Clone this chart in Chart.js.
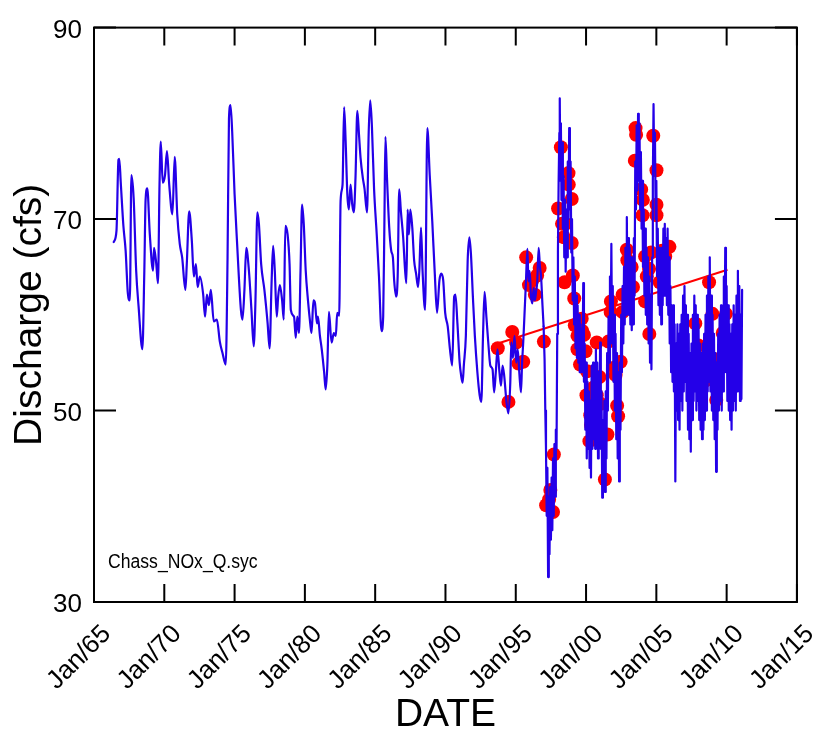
<!DOCTYPE html>
<html><head><meta charset="utf-8">
<script src="https://cdn.jsdelivr.net/npm/chart.js@4.4.1/dist/chart.umd.min.js"></script>
<style>html,body{margin:0;padding:0;background:#fff;}canvas{display:block;}</style>
</head><body>
<canvas id="c" width="836" height="731"></canvas>
<script>
// ---- Data ----
const flowDates = [
1966.40,1966.60,1966.74,1966.80,1966.90,1967.09,1967.25,1967.41,1967.55,1967.66,1967.82,1968.00,1968.17,1968.44,1968.58,1968.67,1968.79,1968.97,
1969.20,1969.27,1969.43,1969.55,1969.66,1969.75,1969.89,1970.05,1970.19,1970.35,1970.58,1970.74,1970.92,1971.10,1971.27,1971.50,1971.60,1971.77,1971.96,
1972.10,1972.25,1972.37,1972.53,1972.76,1972.90,1973.03,1973.17,1973.31,1973.52,1973.74,1973.95,1974.14,1974.37,1974.50,1974.60,1974.71,1974.83,
1975.00,1975.17,1975.45,1975.56,1975.70,1975.83,1976.02,1976.20,1976.36,1976.48,1976.62,1976.73,1976.89,1977.12,1977.35,1977.49,1977.63,1977.74,1977.86,
1978.00,1978.10,1978.22,1978.38,1978.50,1978.61,1978.77,1978.91,1979.00,1979.23,1979.35,1979.46,1979.58,1979.69,1979.80,1979.92,1980.06,1980.22,1980.38,
1980.47,1980.61,1980.72,1980.86,1980.93,1981.07,1981.20,1981.37,1981.48,1981.60,1981.71,1981.90,1982.06,1982.20,1982.30,1982.44,1982.54,1982.68,1982.79,
1982.90,1983.02,1983.13,1983.25,1983.37,1983.48,1983.60,1983.73,1983.85,1983.96,1984.12,1984.24,1984.42,1984.54,1984.65,1984.77,1984.92,1985.11,1985.27,
1985.45,1985.57,1985.66,1985.73,1985.84,1986.00,1986.14,1986.26,1986.35,1986.49,1986.60,1986.71,1986.83,1986.99,1987.13,1987.22,1987.31,1987.40,1987.50,
1987.64,1987.77,1987.91,1988.05,1988.14,1988.26,1988.37,1988.55,1988.71,1988.88,1989.06,1989.24,1989.40,1989.57,1989.70,1989.84,1989.98,1990.16,1990.32,
1990.48,1990.62,1990.71,1990.85,1991.01,1991.12,1991.22,1991.31,1991.45,1991.58,1991.70,1991.81,1991.95,1992.09,1992.27,1992.43,1992.55,1992.67,1992.78,
1992.91,1993.08,1993.19,1993.35,1993.46,1993.58,1993.70,1993.84,1993.95,1994.06,1994.18,1994.34,1994.48,1994.61,
1994.68,1994.80,1994.91,1995.03,1995.14,1995.25,1995.37,1995.45,1995.53,1995.62,1995.72,1995.83,1995.90,1995.99,1996.08,1996.18,1996.27,1996.36,1996.45,
1996.52,1996.63,1996.72,1996.80,1996.90,1996.98,
1997.05,1997.10,1997.15,1997.20,1997.25,1997.30,1997.35,1997.40,1997.45,1997.50,1997.55,1997.60,1997.65,1997.70,1997.75,1997.80,1997.85,1997.90,1997.95,
1998.00,1998.05,1998.10,1998.13,1998.17,1998.21,1998.25,1998.30,1998.35,1998.40,1998.45,1998.50,1998.55,1998.60,1998.65,1998.70,1998.75,1998.80,1998.85,
1998.90,1998.95,1999.00,1999.05,1999.10,1999.15,1999.20,1999.25,1999.30,1999.35,1999.40,1999.45,1999.50,1999.55,1999.60,1999.65,1999.70,1999.75,1999.80,
1999.85,1999.90,1999.95,2000.00,2000.05,2000.10,2000.15,2000.20,2000.25,2000.30,2000.35,2000.40,2000.45,2000.50,2000.55,2000.60,2000.65,2000.70,2000.75,
2000.80,2000.85,2000.90,2000.95,2001.00,2001.05,2001.10,2001.15,2001.20,2001.25,2001.30,2001.35,2001.40,2001.45,2001.50,2001.55,2001.60,2001.65,2001.70,
2001.75,2001.80,2001.85,2001.90,2001.95,2002.00,2002.05,2002.10,2002.15,2002.20,2002.25,2002.30,2002.35,2002.40,2002.45,2002.50,2002.55,2002.60,2002.65,
2002.70,2002.75,2002.80,2002.85,2002.90,2002.95,2003.00,2003.05,2003.10,2003.15,2003.20,2003.25,2003.30,2003.35,2003.40,2003.45,2003.50,2003.55,2003.60,
2003.65,2003.70,2003.75,2003.80,2003.85,2003.90,2003.95,2004.00,2004.05,2004.10,2004.15,2004.20,2004.25,2004.30,2004.35,2004.40,2004.45,2004.50,2004.55,
2004.60,2004.65,2004.70,2004.75,2004.80,2004.85,2004.90,2004.95,2005.00,2005.05,2005.10,2005.15,2005.20,2005.25,2005.30,2005.35,2005.40,2005.45,2005.50,
2005.55,2005.60,2005.65,2005.70,2005.75,2005.80,2005.85,2005.90,2005.95,2006.00,2006.05,2006.10,2006.15,2006.20,2006.25,2006.30,2006.35,2006.40,2006.45,
2006.50,2006.55,2006.60,2006.65,2006.70,2006.75,2006.80,2006.85,2006.90,2006.95,2007.00,2007.05,2007.10,2007.15,2007.20,2007.25,2007.30,2007.35,2007.40,
2007.45,2007.50,2007.55,2007.60,2007.65,2007.70,2007.75,2007.80,2007.85,2007.90,2007.95,2008.00,2008.05,2008.10,2008.15,2008.20,2008.25,2008.30,2008.35,
2008.40,2008.45,2008.50,2008.55,2008.60,2008.65,2008.70,2008.75,2008.80,2008.85,2008.90,2008.95,2009.00,2009.05,2009.10,2009.15,2009.20,2009.25,2009.30,
2009.35,2009.40,2009.45,2009.50,2009.55,2009.60,2009.65,2009.70,2009.75,2009.80,2009.85,2009.90,2009.95,2010.00,2010.05,2010.10,2010.15,2010.20,2010.25,
2010.30,2010.35,2010.40,2010.45,2010.50,2010.55,2010.60,2010.65,2010.70,2010.75,2010.80,2010.85,2010.90,2010.95,2011.00,2011.05,2011.10
];
const flowValues = [
67.6,68.8,76.2,76.3,73.9,69.3,66.7,62.2,61.5,74.6,72.2,64.6,60.9,56.4,64.6,72.0,73.2,68.4,
64.6,67.0,65.3,63.3,73.6,78.1,73.8,74.6,77.1,73.6,70.5,76.5,70.5,67.4,66.0,62.6,65.3,70.8,67.7,
64.0,65.3,62.9,64.0,62.2,59.8,62.1,61.0,62.6,59.3,59.5,57.2,56.0,54.8,66.0,80.5,81.9,79.1,
72.6,67.7,60.5,59.5,62.6,67.0,64.6,60.5,56.7,61.2,70.7,69.5,65.3,62.6,59.1,56.5,63.3,67.2,64.6,
59.8,61.9,63.1,61.5,59.5,69.3,68.4,65.3,60.5,59.8,57.6,59.8,58.1,64.6,71.5,69.5,64.6,61.5,59.1,
58.1,61.5,61.2,59.1,59.8,57.8,56.4,54.0,52.2,54.8,60.3,57.1,58.1,57.8,60.2,59.9,71.9,73.6,81.7,
78.1,72.6,71.0,73.6,71.5,70.7,74.3,81.3,78.8,76.4,74.3,73.2,70.7,79.1,82.4,79.6,73.2,68.4,64.0,
58.3,59.8,70.2,78.6,74.3,69.1,66.7,66.0,63.6,61.9,64.0,73.1,70.8,68.1,64.6,63.3,71.0,68.4,71.0,
69.1,65.7,64.3,62.9,64.6,69.1,64.6,60.5,79.5,74.6,69.8,64.3,60.2,63.6,64.3,63.6,60.2,58.8,56.4,
54.7,61.9,62.1,59.1,55.0,53.6,52.9,54.8,57.8,65.7,68.1,66.4,61.9,57.8,54.0,51.6,50.9,57.8,62.4,
59.8,56.4,54.7,54.3,51.9,54.0,56.4,54.0,52.6,54.7,53.6,50.9,49.7,52.9,
57.1,55.5,57.8,55.0,56.4,54.0,51.9,55.0,57.1,60.0,63.3,66.9,63.5,64.6,62.0,61.2,62.8,61.5,62.5,
63.3,67.0,65.0,64.0,61.0,58.8,
55.3,50.0,46.0,39.0,44.0,32.6,41.0,35.0,42.0,36.5,43.0,37.5,45.0,39.0,46.5,41.0,48.0,46.0,58.0,
66.7,74.0,79.0,82.6,74.0,80.0,72.0,78.0,69.0,74.5,66.0,72.0,64.5,71.0,66.0,76.0,70.0,79.5,71.0,
76.0,66.5,70.0,61.5,66.0,59.0,64.0,56.5,62.0,55.5,61.0,55.0,60.0,54.0,59.0,54.0,58.5,55.0,63.3,
53.0,57.0,48.0,55.0,45.0,53.0,46.0,52.0,44.0,51.0,43.0,54.7,46.0,55.0,47.0,53.0,46.0,56.4,48.0,
55.0,45.0,54.0,47.0,57.1,46.0,52.0,40.9,49.0,42.0,51.0,41.5,52.0,45.0,56.0,50.0,59.8,55.0,64.0,
58.0,67.4,57.0,63.0,53.0,60.0,50.0,58.0,47.0,56.0,45.0,54.0,42.6,55.0,48.0,60.0,54.0,63.0,57.0,
65.0,59.0,67.0,60.0,70.2,61.0,68.0,60.0,67.0,59.0,66.0,58.4,65.0,59.0,68.0,62.0,76.0,71.0,79.8,
73.0,81.0,74.0,80.0,71.0,77.0,69.0,74.0,65.0,71.0,62.0,69.0,60.0,67.0,59.0,66.0,57.0,64.0,55.0,
62.0,54.3,66.0,74.0,82.0,75.0,79.0,70.0,74.0,64.0,69.0,61.0,67.0,60.0,66.0,59.0,67.0,61.0,69.0,
62.0,69.5,62.0,68.0,61.0,69.0,60.0,66.0,57.0,63.0,54.0,61.0,53.0,61.0,52.0,59.0,42.6,57.0,50.0,
59.0,49.0,58.0,48.0,59.0,51.0,60.0,50.0,62.0,52.0,63.0,53.0,61.0,51.0,60.0,48.0,58.0,47.0,56.0,
45.7,57.0,49.0,60.0,51.0,62.0,52.0,61.0,50.0,60.0,51.0,59.0,49.0,57.0,48.0,56.0,47.0,57.0,48.0,
58.0,49.0,60.0,50.0,62.0,52.0,64.0,53.0,66.0,52.0,62.0,50.0,60.0,49.0,58.0,47.0,56.0,43.6,55.0,
48.0,58.0,50.0,60.0,51.0,61.0,50.0,60.0,52.0,64.0,55.0,67.0,54.0,63.0,51.0,61.0,50.0,59.0,49.0,
58.0,48.0,59.0,50.0,61.0,51.0,60.0,50.0,62.0,52.0,64.6,53.0,63.0,51.0,60.0,51.2,62.6
];
const sampleDates = [
1993.72,1994.48,1994.75,1995.03,1995.19,1995.53,1995.74,1995.94,1996.17,1996.36,1996.52,1996.70,1997.00,1997.16,1997.37,1997.46,
1997.65,1997.71,1998.01,1998.21,1998.29,1998.42,1998.47,1998.54,1998.75,1998.77,1998.98,1998.98,1999.06,1999.16,1999.20,1999.39,
1999.39,1999.57,1999.69,1999.73,1999.85,1999.96,2000.03,2000.07,2000.24,2000.30,2000.35,2000.54,2000.76,2000.76,2000.95,2001.03,
2001.30,2001.34,2001.52,2001.59,2001.75,2001.77,2002.03,2002.10,2002.21,2002.28,2002.46,2002.60,2002.60,2002.90,2002.94,2002.94,
2003.24,2003.34,2003.47,2003.52,2003.56,2003.92,2004.02,2004.04,2004.20,2004.20,2004.32,2004.48,2004.50,2004.62,2004.78,2005.01,
2005.01,2005.01,2005.24,2005.40,2005.63,2005.93,2007.77,2008.00,2008.23,2008.46,2008.75,2008.99,2009.26,2009.49,2009.72,2009.95
];
const sampleValues = [
56.5,50.9,58.2,57.1,54.9,55.1,66.0,63.1,63.6,62.1,64.1,64.9,57.2,40.1,40.7,41.7,
39.4,45.4,71.1,77.5,69.5,68.1,63.4,69.5,74.8,73.6,72.1,67.5,64.1,61.7,58.9,57.8,
56.4,54.8,59.6,58.3,57.9,56.2,51.6,54.1,46.8,49.5,48.5,52.4,57.1,51.6,53.5,50.7,
47.5,42.8,47.5,57.2,60.3,61.4,54.5,53.7,50.5,49.4,55.1,60.3,62.1,66.8,65.7,62.4,
65.0,62.9,76.1,79.5,78.8,73.1,70.4,72.0,66.1,61.4,64.0,64.8,58.0,66.5,78.7,75.1,
71.5,70.4,63.4,66.7,66.1,67.1,59.1,56.8,54.9,53.1,63.4,60.1,51.1,55.4,58.1,60.1
];
const trendDates = [1993.72, 2010.06];
const trendValues = [57.0, 64.7];
const xTickYears = [1965,1970,1975,1980,1985,1990,1995,2000,2005,2010,2015];
const xTickLabels = ['Jan/65','Jan/70','Jan/75','Jan/80','Jan/85','Jan/90','Jan/95','Jan/00','Jan/05','Jan/10','Jan/15'];
const yTickValues = [30,50,70,90];
const annotationText = 'Chass_NOx_Q.syc';

const FONT = "'Liberation Sans', Arial, Helvetica, sans-serif";
const toPts = (xs, ys) => xs.map((d, i) => ({x: d, y: ys[i]}));
const flowPts = toPts(flowDates, flowValues);
const split = flowDates.findIndex(d => d >= 1997);
const BLUE = '#2400e8';

const framePlugin = {
  id: 'frame',
  afterDraw(chart) {
    const {ctx, chartArea: a, scales: {x, y}} = chart;
    ctx.save();
    ctx.strokeStyle = '#000';
    ctx.lineWidth = 2;
    ctx.strokeRect(a.left, a.top, a.right - a.left, a.bottom - a.top);
    ctx.beginPath();
    x.ticks.forEach(t => {
      const px = x.getPixelForValue(t.value);
      ctx.moveTo(px, a.bottom); ctx.lineTo(px, a.bottom - 18);
      ctx.moveTo(px, a.top); ctx.lineTo(px, a.top + 18);
    });
    y.ticks.forEach(t => {
      const py = y.getPixelForValue(t.value);
      ctx.moveTo(a.left, py); ctx.lineTo(a.left + 22, py);
      ctx.moveTo(a.right, py); ctx.lineTo(a.right - 22, py);
    });
    ctx.stroke();
    ctx.fillStyle = '#000';
    ctx.font = '20px ' + FONT;
    ctx.textBaseline = 'alphabetic';
    ctx.textAlign = 'left';
    ctx.translate(a.left + 14, a.bottom - 34);
    ctx.scale(0.88, 1);
    ctx.fillText(annotationText, 0, 0);
    ctx.restore();
  }
};

new Chart(document.getElementById('c'), {
  type: 'scatter',
  data: {
    datasets: [
      {data: flowPts.slice(0, split), showLine: true, borderColor: BLUE, borderWidth: 2.2,
       pointRadius: 0, cubicInterpolationMode: 'monotone', fill: false, borderJoinStyle: 'round', borderCapStyle: 'round'},
      {data: flowPts.slice(split - 1), showLine: true, borderColor: BLUE, borderWidth: 2.2,
       pointRadius: 0, tension: 0, fill: false, borderJoinStyle: 'round', borderCapStyle: 'round'},
      {data: toPts(trendDates, trendValues), showLine: true, borderColor: '#ff0000', borderWidth: 2,
       pointRadius: 0, fill: false},
      {data: toPts(sampleDates, sampleValues), showLine: false, pointRadius: 7,
       pointBackgroundColor: '#ff0000', pointBorderWidth: 0, pointBorderColor: '#ff0000'}
    ]
  },
  options: {
    responsive: false,
    animation: false,
    events: [],
    layout: {padding: {top: 21, right: 16, left: 0, bottom: 0}},
    plugins: {legend: {display: false}, tooltip: {enabled: false}},
    scales: {
      x: {
        type: 'linear', min: 1965, max: 2015,
        afterBuildTicks: s => { s.ticks = xTickYears.map(v => ({value: v})); },
        afterFit: s => { s.height = 129; },
        grid: {display: false, drawTicks: false},
        border: {display: false},
        ticks: {
          autoSkip: false, minRotation: 45, maxRotation: 45, padding: 17, labelOffset: 13,
          color: '#000', font: {family: FONT, size: 26},
          callback: v => xTickLabels[xTickYears.indexOf(v)]
        },
        title: {display: true, text: 'DATE', color: '#000', font: {family: FONT, size: 39, lineHeight: 0.8}, padding: 0}
      },
      y: {
        type: 'linear', min: 30, max: 90,
        afterBuildTicks: s => { s.ticks = yTickValues.map(v => ({value: v})); },
        afterFit: s => { s.width = 94; },
        grid: {display: false, drawTicks: false},
        border: {display: false},
        ticks: {padding: 12, labelOffset: 3, color: '#000', font: {family: FONT, size: 26}},
        title: {display: true, text: 'Discharge (cfs)', color: '#000', font: {family: FONT, size: 39, lineHeight: 1.2}, padding: {top: 7, bottom: 0}}
      }
    }
  },
  plugins: [framePlugin]
});
</script>
</body></html>
